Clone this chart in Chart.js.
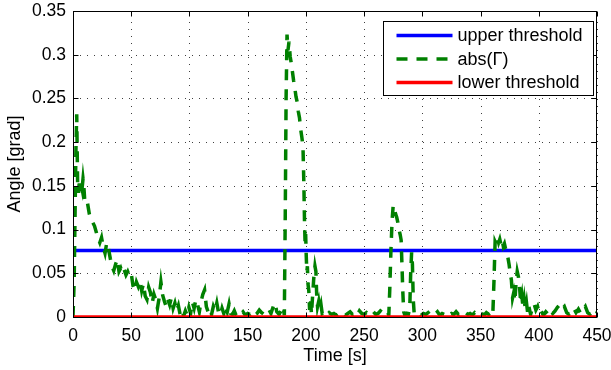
<!DOCTYPE html>
<html><head><meta charset="utf-8">
<script src="https://cdn.jsdelivr.net/npm/chart.js@4/dist/chart.umd.min.js"></script>
<style>html,body{margin:0;padding:0;background:#fff}#wrap{width:611px;height:370px;position:relative}</style>
</head><body><div id="wrap"><canvas id="c"></canvas></div>
<script>
// ---- data ----
const times = [0,1,1.8,2.5,3.2,3.6,4,4.8,5.5,6.3,7,7.8,8.6,9.3,10,11,12.5,14,15.5,17,18.5,20,21.5,23,24.5,26,27.5,29,30.5,32,33.5,35,36.5,38,39.5,41,42.5,44,45.5,47,48.5,50,51.5,53,54.5,56,57.5,59,60.5,62,63.5,65,66.5,68,69.5,71,72.5,74,75.5,77,78.5,80,81.5,83,84.5,86,87.5,89,90.5,92,93.5,95,96.5,98,99.5,101,102.5,104,105.5,107,108.5,110,111.5,113,114.5,116,117.5,119,120.5,122,123.5,125,126.5,128,129.5,131,132.5,134,135.5,137,138.5,140,142,144,146,148,150,152,154,156,158,160,162,164,166,168,170,172,173.5,175,177,179,180.5,181.5,182.3,183,183.8,184.6,185.5,186.5,187.5,188.5,189.5,190.5,191.5,192.5,193.5,194.5,195.5,196.5,197.5,198.3,198.8,199.3,199.8,200.3,200.8,201.3,201.8,202.5,203.2,204,204.8,205.8,206.8,207.8,208.6,209.3,210,211,212,213,214,216,218,220,222,224,226,228,230,232,234,236,238,240,242,244,246,248,250,252,254,256,258,260,262,264,266,268,270,271.2,272,273,274,275,276,277,278,279,280,281,281.8,282.5,283.2,284,285,286.5,288,289.2,290,290.8,291.5,292.2,293,295,297,299,301,303,305,307,309,311,313,315,317,319,321,323,325,327,329,331,333,335,337,339,341,343,345,347,349,351,353,355,357,359,360.5,361.5,362.5,363.5,364.5,365.5,366.5,367.5,368.5,369.5,370.5,371.5,372.5,373.5,374.5,375.5,376.5,377.5,378.5,379.5,380.5,381.5,382.5,383.5,384.5,385.5,386.5,387.5,388.5,389.5,390.5,391.5,393,394.5,396,397.5,399,400.5,402,404,406,408,410,412,414,416,418,420,422,424,426,428,430,432,434,436,438,440,442,444,446,448,450];
const absGamma = [0,0.04,0.12,0.19,0.232,0.19,0.15,0.142,0.158,0.144,0.153,0.147,0.158,0.15,0.135,0.128,0.13,0.118,0.112,0.108,0.104,0.097,0.09,0.085,0.091,0.08,0.073,0.085,0.078,0.067,0.058,0.053,0.06,0.066,0.052,0.056,0.05,0.054,0.048,0.052,0.047,0.05,0.036,0.03,0.04,0.035,0.042,0.03,0.038,0.024,0.02,0.034,0.028,0.016,0.026,0.02,0.01,0.022,0.04,0.025,0.018,0.012,0.02,0.014,0.022,0.01,0.016,0.007,0.013,0.003,0.008,0.001,0.007,0.002,0.011,0.004,0.017,0.01,0.02,0.014,0.006,0.018,0.026,0.031,0.012,0.006,0.01,0.003,0.012,0.007,0.016,0.005,0.002,0.01,0.004,0.013,0.006,0.015,0.004,0.003,0.007,0.002,0.005,0.003,0.006,0.002,0.004,0.003,0.006,0.002,0.004,0.008,0.005,0.003,0.006,0.009,0.004,0.012,0.016,0.006,0.003,0.008,0.012,0.002,0.12,0.25,0.323,0.305,0.315,0.298,0.29,0.28,0.27,0.262,0.252,0.246,0.235,0.228,0.215,0.206,0.195,0.15,0.11,0.085,0.095,0.07,0.052,0.058,0.038,0.03,0.008,0.02,0.003,0.025,0.045,0.058,0.052,0.025,0.012,0.018,0.008,0.014,0.004,0.006,0.002,0.005,0.003,0.004,0.002,0.004,0.003,0.005,0.002,0.004,0.006,0.003,0.005,0.002,0.007,0.004,0.003,0.005,0.002,0.004,0.006,0.003,0.004,0.007,0.005,0.003,0.006,0.002,0.03,0.075,0.11,0.128,0.124,0.118,0.114,0.108,0.1,0.094,0.088,0.06,0.03,0.006,0.002,0.004,0.003,0.01,0.05,0.074,0.06,0.02,0.004,0.003,0.005,0.002,0.004,0.003,0.005,0.002,0.004,0.003,0.006,0.002,0.004,0.003,0.005,0.002,0.004,0.003,0.006,0.003,0.004,0.002,0.005,0.003,0.004,0.002,0.005,0.003,0.006,0.004,0.002,0.005,0.003,0.005,0.002,0.04,0.086,0.083,0.09,0.085,0.089,0.083,0.088,0.081,0.084,0.078,0.076,0.068,0.06,0.05,0.042,0.022,0.028,0.018,0.04,0.052,0.046,0.034,0.016,0.024,0.01,0.02,0.008,0.016,0.004,0.012,0.003,0.01,0.015,0.008,0.012,0.004,0.007,0.002,0.006,0.003,0.008,0.004,0.007,0.011,0.014,0.009,0.012,0.005,0.003,0.007,0.01,0.005,0.009,0.004,0.008,0.012,0.005,0.003,0.007,0.003,0.005];
const thresholdTimes = [0, 450];
const upperThreshold = [0.076, 0.076];
const lowerThreshold = [0, 0];
const xTickValues = [0, 50, 100, 150, 200, 250, 300, 350, 400, 450];
const yTickValues = [0, 0.05, 0.1, 0.15, 0.2, 0.25, 0.3, 0.35];
const seriesLabels = ['upper threshold', 'abs(\u0393)', 'lower threshold'];
const xLabel = 'Time [s]';
const yLabel = 'Angle [grad]';

const FONT = '"Liberation Sans", Arial, Helvetica, sans-serif';
const FS = 18;
const TFS = 17.5;
const pts = (xs, ys) => xs.map((x, i) => ({x, y: ys[i]}));

const matlabFrame = {
  id: 'matlabFrame',
  beforeDatasetsDraw(chart) {
    const {ctx, chartArea: a, scales: {x, y}} = chart;
    ctx.save();
    ctx.strokeStyle = 'rgba(0,0,0,0.75)';
    ctx.lineWidth = 1;
    ctx.setLineDash([1, 6]);
    xTickValues.forEach(v => {
      const px = Math.round(x.getPixelForValue(v)) + 0.5;
      ctx.beginPath(); ctx.moveTo(px, a.bottom); ctx.lineTo(px, a.top); ctx.stroke();
    });
    yTickValues.forEach(v => {
      const py = Math.round(y.getPixelForValue(v)) + 0.5;
      ctx.beginPath(); ctx.moveTo(a.left, py); ctx.lineTo(a.right, py); ctx.stroke();
    });
    ctx.restore();
  },
  afterDatasetsDraw(chart) {
    const {ctx, chartArea: a, scales: {x, y}} = chart;
    ctx.save();
    ctx.strokeStyle = '#000';
    ctx.lineWidth = 1;
    ctx.setLineDash([]);
    const L = Math.round(a.left) + 0.5, R = Math.round(a.right) - 0.5;
    const T = Math.round(a.top) + 0.5, B = Math.round(a.bottom) + 0.5;
    ctx.strokeRect(L, T, R - L, B - T);
    const tl = 5;
    ctx.beginPath();
    xTickValues.forEach(v => {
      const px = Math.round(x.getPixelForValue(v)) + 0.5;
      ctx.moveTo(px, B); ctx.lineTo(px, B - tl);
      ctx.moveTo(px, T); ctx.lineTo(px, T + tl);
    });
    yTickValues.forEach(v => {
      const py = Math.round(y.getPixelForValue(v)) + 0.5;
      ctx.moveTo(L, py); ctx.lineTo(L + tl, py);
      ctx.moveTo(R, py); ctx.lineTo(R - tl, py);
    });
    ctx.stroke();

    // legend box (inside the axes, top right)
    const bw = 210, bh = 74;
    const bx = Math.round(a.right) - 4 - bw + 0.5, by = Math.round(a.top) + 10 + 0.5;
    ctx.fillStyle = '#fff';
    ctx.fillRect(bx, by, bw, bh);
    ctx.strokeStyle = '#000';
    ctx.lineWidth = 1;
    ctx.strokeRect(bx, by, bw, bh);
    ctx.font = FS + 'px ' + FONT;
    ctx.textBaseline = 'middle';
    ctx.textAlign = 'left';
    [0, 1, 2].forEach((i) => {
      const ds = chart.data.datasets[i];
      const ry = by + 14 + i * 23.5;
      ctx.strokeStyle = ds.borderColor;
      ctx.lineWidth = ds.borderWidth;
      ctx.setLineDash(ds.borderDash || []);
      ctx.beginPath(); ctx.moveTo(bx + 13, ry); ctx.lineTo(bx + 69, ry); ctx.stroke();
      ctx.setLineDash([]);
      ctx.fillStyle = '#000';
      ctx.fillText(ds.label, bx + 74, ry + 1);
    });
    ctx.restore();
  }
};

new Chart(document.getElementById('c'), {
  type: 'line',
  data: {
    datasets: [
      {label: seriesLabels[0], data: pts(thresholdTimes, upperThreshold), borderColor: '#0000ff', borderWidth: 3.5, order: 2},
      {label: seriesLabels[1], data: pts(times, absGamma), borderColor: '#008000', borderWidth: 3.5, borderDash: [11, 9], order: 1},
      {label: seriesLabels[2], data: pts(thresholdTimes, lowerThreshold), borderColor: '#ff0000', borderWidth: 3.5, order: 0}
    ]
  },
  options: {
    responsive: true, maintainAspectRatio: false, animation: false, devicePixelRatio: 1,
    elements: {point: {radius: 0, hoverRadius: 0}, line: {tension: 0, fill: false, borderCapStyle: 'butt', borderJoinStyle: 'miter'}},
    layout: {padding: {top: 11, right: 14, left: 0, bottom: 0}},
    plugins: {legend: {display: false}, tooltip: {enabled: false}},
    events: [],
    scales: {
      x: {
        type: 'linear', min: 0, max: 450,
        afterBuildTicks: s => { s.ticks = xTickValues.map(v => ({value: v})); },
        afterFit: s => { s.height = 53; s.paddingLeft = 0; s.paddingRight = 0; },
        ticks: {font: {family: FONT, size: TFS}, color: '#000', padding: 9, maxRotation: 0, autoSkip: false, callback: v => String(v)},
        grid: {display: false, drawTicks: false},
        border: {display: false},
        title: {display: true, text: xLabel, font: {family: FONT, size: FS}, color: '#000', padding: {top: 0, bottom: 3}}
      },
      y: {
        type: 'linear', min: 0, max: 0.35,
        afterBuildTicks: s => { s.ticks = yTickValues.map(v => ({value: v})); },
        afterFit: s => { s.width = 73; s.paddingTop = 0; s.paddingBottom = 0; },
        ticks: {font: {family: FONT, size: TFS}, color: '#000', padding: 7, autoSkip: false, callback: v => String(Number(v.toFixed(2)))},
        grid: {display: false, drawTicks: false},
        border: {display: false},
        title: {display: true, text: yLabel, font: {family: FONT, size: FS}, color: '#000', padding: {top: 4, bottom: 0}}
      }
    }
  },
  plugins: [matlabFrame]
});
</script>
</body></html>
